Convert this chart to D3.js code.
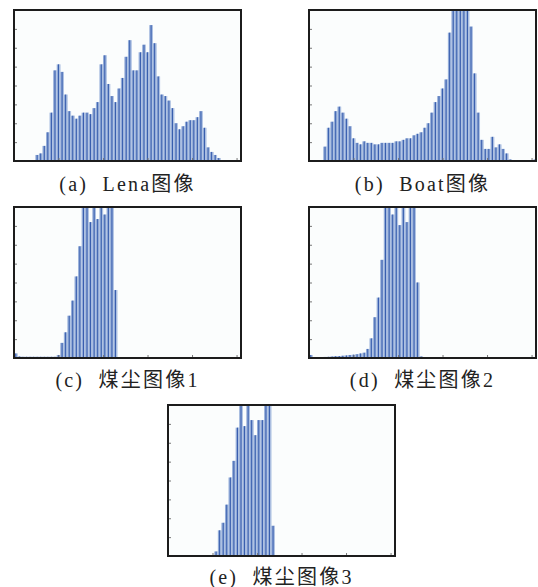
<!DOCTYPE html>
<html>
<head>
<meta charset="utf-8">
<script src="https://cdn.jsdelivr.net/npm/d3@7"></script>
<style>
  body { margin: 0; background: #fff; }
  svg { display: block; }
  .label {
    font-family: "Liberation Serif", "Noto Sans CJK SC", serif;
    font-size: 20px;
    letter-spacing: 2.2px;
    fill: #222;
    white-space: pre;
  }
</style>
</head>
<body>
<svg id="graph" width="538" height="587"></svg>
<script>
// histogram heights, 64 bins of 4 grey levels, relative to the axis top (>1 is clipped)
const lena_hist = [0, 0, 0, 0, 0, 0, .04, .05, .10, .19, .32, .60, .64, .59, .44, .33,
  .30, .28, .30, .32, .32, .31, .35, .39, .64, .70, .51, .43, .39, .48, .55, .69,
  .80, .60, .60, .72, .77, .72, .90, .78, .56, .44, .43, .40, .35, .25, .21, .23,
  .26, .27, .27, .29, .33, .22, .09, .06, .04, .02, .005, 0, 0, 0, 0, 0]
const boat_hist = [0, 0, 0, 0, .095, .22, .26, .33, .36, .32, .28, .23, .15, .12, .11, .13,
  .12, .12, .11, .11, .12, .12, .12, .12, .13, .13, .14, .15, .15, .17, .18, .19,
  .22, .25, .32, .39, .43, .48, .54, .85, 1.2, 1.3, 1.3, 1.3, 1.2, .89, .58, .32,
  .14, .08, .08, .16, .09, .11, .08, .05, .01, 0, 0, 0, 0, 0, 0, .01]
const coal1_hist = [.03, .01, .008, .008, .008, .008, .008, .008, .008, .008, .008, .008, .02, .10, .17, .28,
  .38, .54, .74, 1.1, 1.2, .90, 1.1, .92, 1.1, .95, 1.15, 1.2, .45, 0, 0, 0,
  0, 0, 0, 0, 0, 0, 0, 0, 0, 0, 0, 0, 0, 0, 0, 0,
  0, 0, 0, 0, 0, 0, 0, 0, 0, 0, 0, 0, 0, 0, 0, 0]
const coal2_hist = [.02, .005, .005, .006, .007, .008, .01, .012, .013, .015, .017, .02, .022, .025, .03, .035,
  .06, .13, .27, .40, .65, 1.0, 1.2, .95, 1.15, .88, 1.2, .90, 1.15, 1.2, .50, .01,
  0, 0, 0, 0, 0, 0, 0, 0, 0, 0, 0, 0, 0, 0, 0, 0,
  0, 0, 0, 0, 0, 0, 0, 0, 0, 0, 0, 0, 0, 0, 0, 0]
const coal3_hist = [0, 0, 0, 0, 0, 0, 0, 0, 0, 0, 0, 0, .005, .03, .17, .22,
  .34, .52, .63, .85, 1.05, .86, 1.0, .90, .80, .90, .90, 1.05, 1.0, .20, 0, 0,
  0, 0, 0, 0, 0, 0, 0, 0, 0, 0, 0, 0, 0, 0, 0, 0,
  0, 0, 0, 0, 0, 0, 0, 0, 0, 0, 0, 0, 0, 0, 0, 0]

const bin_starts = d3.range(0, 256, 4)
const x_ticks = [0, 50, 100, 150, 200, 250]
const y_ticks = [0, .125, .25, .375, .5, .625, .75, .875, 1]
const labels = ["(a)  Lena图像", "(b)  Boat图像", "(c)  煤尘图像1", "(d)  煤尘图像2", "(e)  煤尘图像3"]

const light = "#93acd8"
const dark = "#2f56aa"

// layout of the five small axes
const plot_w = 227
const plot_h = 151
const layout = [
  {hist: lena_hist, x: 14, y: 10, label_y: 191},
  {hist: boat_hist, x: 309, y: 10, label_y: 191},
  {hist: coal1_hist, x: 14, y: 207, label_y: 387},
  {hist: coal2_hist, x: 309, y: 207, label_y: 387},
  {hist: coal3_hist, x: 168, y: 405, label_y: 584},
]

const svg = d3.select("#graph")

function draw_panel(panel, idx){
  const g = svg.append("g").attr("transform", `translate(${panel.x},${panel.y})`)

  const x = d3.scaleLinear().domain([0, 255]).range([0, plot_w])
  const y = d3.scaleLinear().domain([0, 1]).range([plot_h, 0])

  g.append("clipPath").attr("id", "clip" + idx)
    .append("rect").attr("width", plot_w).attr("height", plot_h)

  g.append("rect")
    .attr("width", plot_w).attr("height", plot_h)
    .attr("fill", "#fbfdfd")

  const bars = g.append("g").attr("clip-path", `url(#clip${idx})`)
  const data = bin_starts.map((b, i) => ({g0: b, v: panel.hist[i]})).filter(d => d.v > 0)
  const top = d => y(Math.min(d.v, 1.05))

  // light fill of each bin
  bars.selectAll(".bin")
    .data(data)
    .enter()
    .append("rect")
    .attr("class", "bin")
    .attr("x", d => x(d.g0))
    .attr("width", d => x(d.g0 + 4) - x(d.g0) + 0.1)
    .attr("y", top)
    .attr("height", d => plot_h - top(d))
    .attr("fill", light)

  // thin pale seam between bins
  bars.selectAll(".seam")
    .data(data)
    .enter()
    .append("rect")
    .attr("class", "seam")
    .attr("x", d => x(d.g0 + 3.2))
    .attr("width", 0.5)
    .attr("y", top)
    .attr("height", d => plot_h - top(d))
    .attr("fill", "#c9d6ec")

  // darker stem inside each bin
  bars.selectAll(".stem")
    .data(data)
    .enter()
    .append("rect")
    .attr("class", "stem")
    .attr("x", d => x(d.g0 + 1.5))
    .attr("width", 0.9)
    .attr("y", top)
    .attr("height", d => plot_h - top(d))
    .attr("fill", dark)

  // tiny inward ticks, no labels
  g.append("g")
    .call(d3.axisLeft(y).tickValues(y_ticks).tickSize(-3).tickFormat(""))
    .call(a => a.select(".domain").remove())
    .selectAll("line").attr("stroke", "#777")

  g.append("g")
    .attr("transform", `translate(0,${plot_h})`)
    .call(d3.axisBottom(x).tickValues(x_ticks).tickSize(-3).tickFormat(""))
    .call(a => a.select(".domain").remove())
    .selectAll("line").attr("stroke", "#777")

  g.append("rect")
    .attr("width", plot_w).attr("height", plot_h)
    .attr("fill", "none")
    .attr("stroke", "#1c1c1c")
    .attr("stroke-width", 2)

  svg.append("text")
    .attr("class", "label")
    .attr("x", panel.x + plot_w / 2)
    .attr("y", panel.label_y)
    .attr("text-anchor", "middle")
    .text(labels[idx])
}

layout.forEach((p, i) => draw_panel(p, i))
</script>
</body>
</html>
